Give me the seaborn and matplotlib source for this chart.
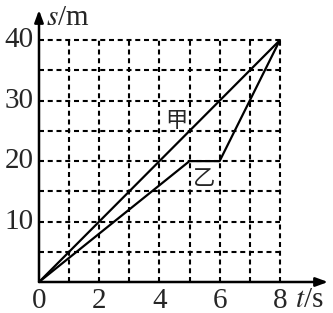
import matplotlib
matplotlib.use("Agg")
import matplotlib.pyplot as plt
import seaborn as sns
import pandas as pd

# data
t_jia = [0, 8]
s_jia = [0, 40]
t_yi = [0, 5, 6, 8]
s_yi = [0, 20, 20, 40]
x_ticks = [0, 2, 4, 6, 8]
y_ticks = [10, 20, 30, 40]
grid_t = [1, 2, 3, 4, 5, 6, 7, 8]
grid_s = [5, 10, 15, 20, 25, 30, 35, 40]

sns.set_theme(style="white")
plt.rcParams['font.family'] = ['Liberation Serif', 'Noto Sans CJK SC', 'DejaVu Sans']

fig = plt.figure(figsize=(3.33, 3.13), dpi=100)
ax = fig.add_axes([39/333, 31/313, 289/333, 272/313])
ax.set_xlim(0, 9.6)
ax.set_ylim(0, 45)

# dashed grid
ax.vlines(grid_t, 0, 40, colors='black', linestyles=(0, (2.4, 1.8)), linewidth=1.5)
ax.hlines(grid_s, 0, 8, colors='black', linestyles=(0, (2.4, 1.8)), linewidth=1.5)

df_jia = pd.DataFrame({"t": t_jia, "s": s_jia})
df_yi = pd.DataFrame({"t": t_yi, "s": s_yi})
sns.lineplot(data=df_jia, x="t", y="s", color='black', linewidth=1.6, estimator=None, sort=False, ax=ax)
sns.lineplot(data=df_yi, x="t", y="s", color='black', linewidth=1.6, estimator=None, sort=False, ax=ax)

for sp in ax.spines.values():
    sp.set_visible(False)
ax.set_xlabel("")
ax.set_ylabel("")
ax.set_xticks([])
ax.set_yticks([])

# axes arrows
ax.annotate('', xy=(9.6, 0), xytext=(0, 0), xycoords='data',
            arrowprops=dict(arrowstyle='-|>,head_length=0.6,head_width=0.22', color='black', lw=1.8,
                            shrinkA=0, shrinkB=0), annotation_clip=False)
ax.annotate('', xy=(0, 45), xytext=(0, 0), xycoords='data',
            arrowprops=dict(arrowstyle='-|>,head_length=0.6,head_width=0.22', color='black', lw=1.8,
                            shrinkA=0, shrinkB=0), annotation_clip=False)

fs = 21
for v in x_ticks:
    ax.text(v, -1.0, str(v), ha='center', va='top', fontsize=fs)
for v in y_ticks:
    ax.text(-0.18, v, str(v), ha='right', va='center', fontsize=fs)

ax.text(0.0, 43.6, r" $s$/m", ha='left', va='center', fontsize=fs,
        family='Liberation Serif', math_fontfamily='stix')
ax.text(8.5, -3.0, r"$t$/s", ha='left', va='center', fontsize=fs,
        family='Liberation Serif', math_fontfamily='stix')

ax.text(4.55, 26.8, "甲", ha='center', va='center', fontsize=16, family=['Noto Sans CJK SC'])
ax.text(5.5, 17.2, "乙", ha='center', va='center', fontsize=16, family=['Noto Sans CJK SC'])

fig.savefig("out.png", dpi=100)
